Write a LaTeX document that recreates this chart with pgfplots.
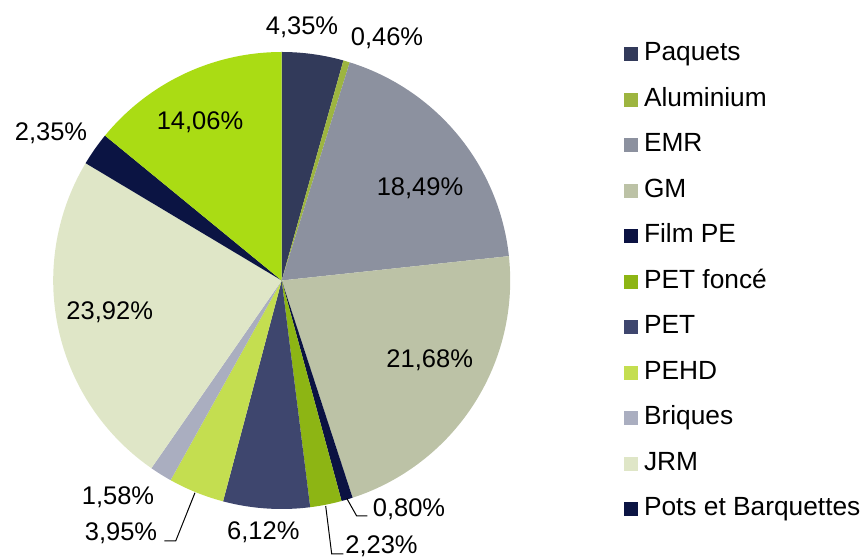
\documentclass[border=0pt]{standalone}
\usepackage{pgfplots}
\pgfplotsset{compat=1.18}
\usepackage{fontspec}
\setmainfont{Liberation Sans}
\definecolor{cPaq}{HTML}{323A5A}
\definecolor{cAlu}{HTML}{9DB540}
\definecolor{cEMR}{HTML}{8C919F}
\definecolor{cGM}{HTML}{BCC2A6}
\definecolor{cFilm}{HTML}{0B1242}
\definecolor{cPETf}{HTML}{8DB514}
\definecolor{cPET}{HTML}{3E466E}
\definecolor{cPEHD}{HTML}{C4DE50}
\definecolor{cBri}{HTML}{AAAEC0}
\definecolor{cJRM}{HTML}{DFE6C7}
\definecolor{cPots}{HTML}{0B1443}
\definecolor{cAut}{HTML}{AADC14}
\def\cum{0}
\newcommand{\slice}[3][]{%
  \pgfmathsetmacro{\aEnd}{90-3.6*\cum}%
  \pgfmathsetmacro{\aStart}{90-3.6*(\cum+#2)}%
  \edef\next{\noexpand\addplot[fill=#3, draw=none, #1, domain=\aStart:\aEnd, samples=90, variable=\noexpand\t] ({281.7+228.5*cos(\noexpand\t)},{278.5+228.5*sin(\noexpand\t)}) -- (axis cs:281.7,278.5) -- cycle;}%
  \pgfmathsetmacro{\newcum}{\cum+#2}\global\let\cum\newcum
  \next}
\newcommand{\lab}[3]{\node[anchor=base, font=\fontsize{25.5}{30}\selectfont, inner sep=0pt] at (axis cs:#1,#2) {#3};}
\begin{document}
\begin{tikzpicture}
\useasboundingbox (0,0) rectangle (865pt,559pt);
\begin{axis}[at={(0,0)}, anchor=south west, scale only axis, width=865pt, height=559pt,
  xmin=0, xmax=865, ymin=0, ymax=559, hide axis, clip=false,
  legend image code/.code={\fill[#1] (0pt,-7pt) rectangle (14pt,7pt); \path (20pt,0pt);},
  legend cell align=left,
  legend style={draw=none, fill=none, at={(axis cs:624,517)}, anchor=north west,
    inner sep=0pt, outer sep=0pt, row sep=20.5pt,
    font=\fontsize{26.3}{30}\selectfont,
    nodes={inner sep=0pt, text height=19pt, text depth=6pt}},
]
\slice{4.35}{cPaq}
\slice{0.46}{cAlu}
\slice{18.49}{cEMR}
\slice{21.68}{cGM}
\slice{0.80}{cFilm}
\slice{2.23}{cPETf}
\slice{6.12}{cPET}
\slice{3.95}{cPEHD}
\slice{1.58}{cBri}
\slice{23.92}{cJRM}
\slice{2.35}{cPots}
\slice[forget plot]{14.06}{cAut}
\legend{Paquets,Aluminium,EMR,GM,Film PE,PET foncé,PET,PEHD,Briques,JRM,Pots et Barquettes}
\lab{302}{524}{4,35\%}
\lab{387}{513.3}{0,46\%}
\lab{420}{363.3}{18,49\%}
\lab{429.7}{191.7}{21,68\%}
\lab{200}{429.7}{14,06\%}
\lab{109.7}{239.7}{23,92\%}
\lab{263.3}{19.7}{6,12\%}
\lab{409}{42.3}{0,80\%}
\lab{381.5}{5.5}{2,23\%}
\lab{118}{54}{1,58\%}
\lab{121}{18}{3,95\%}
\lab{51}{418.3}{2,35\%}
\draw[black, line width=1pt] (axis cs:346.7,60.7) -- (axis cs:356.7,43) -- (axis cs:367.3,43);
\draw[black, line width=1pt] (axis cs:325.7,53) -- (axis cs:331.7,5) -- (axis cs:343.3,5);
\draw[black, line width=1pt] (axis cs:195,66.3) -- (axis cs:175.7,18) -- (axis cs:164.3,18);
\end{axis}
\end{tikzpicture}
\end{document}
